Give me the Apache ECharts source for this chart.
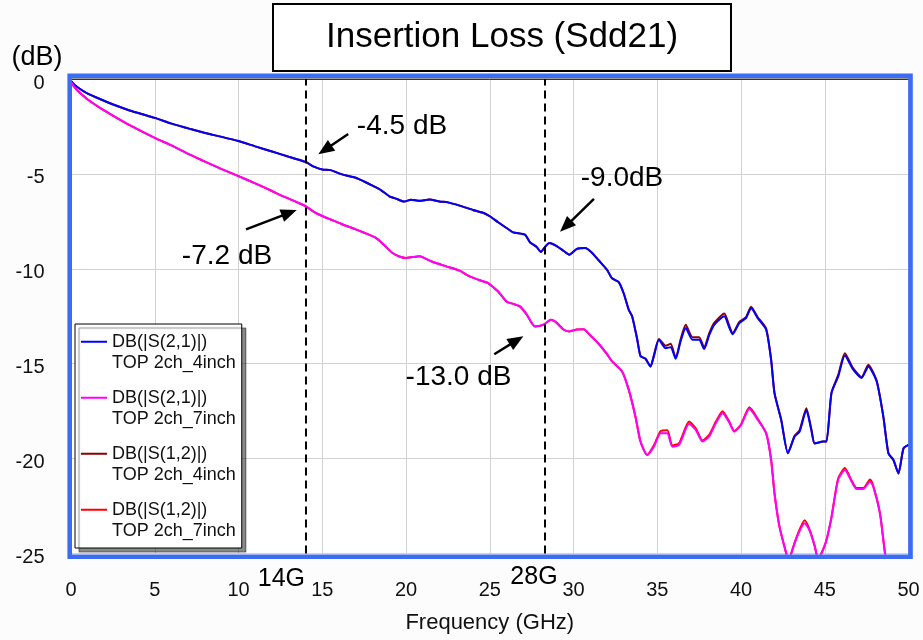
<!DOCTYPE html>
<html>
<head>
<meta charset="utf-8">
<title>Insertion Loss (Sdd21)</title>
<script src="https://cdn.jsdelivr.net/npm/echarts@6/dist/echarts.min.js"></script>
<style>
  html, body { margin: 0; padding: 0; background: #fcfcfc; }
  #chart { width: 923px; height: 640px; }
</style>
</head>
<body>
<div id="chart"></div>
<script>
// frequency axis ticks (GHz) and dB axis ticks
var xTicks = [0, 5, 10, 15, 20, 25, 30, 35, 40, 45, 50];
var yTicks = [0, -5, -10, -15, -20, -25];

// markers for the two dashed frequency lines
var markFreq = [14, 28.3];

// [GHz, dB]
var s21_4in = [
  [0, -0.1], [0.2, -0.3], [0.5, -0.5], [1.0, -0.77], [1.8, -1.08], [2.6, -1.37], [3.5, -1.66],
  [5.0, -2.05], [6.0, -2.35], [7.0, -2.6], [8.0, -2.85], [9.0, -3.05], [10.0, -3.27], [11.0, -3.55],
  [12.0, -3.82], [13.0, -4.1], [14.0, -4.37], [14.5, -4.62], [15.0, -4.77], [15.5, -4.8], [16.0, -4.97],
  [16.5, -5.1], [17.0, -5.2], [17.5, -5.4], [18.0, -5.62], [18.5, -5.85], [19.0, -6.18], [19.4, -6.3],
  [19.9, -6.46], [20.3, -6.36], [20.8, -6.42], [21.4, -6.35], [22.0, -6.45], [22.5, -6.5], [23.2, -6.67],
  [24.0, -6.9], [24.6, -7.05], [25.0, -7.23], [25.5, -7.55], [26.0, -7.85], [26.4, -8.08], [27.1, -8.2],
  [27.4, -8.6], [27.8, -8.85], [28.05, -9.11], [28.3, -8.85], [28.55, -8.64], [29.0, -8.8], [29.4, -9.05],
  [29.75, -9.26], [30.2, -8.95], [30.7, -8.9], [31.1, -9.15], [31.5, -9.55], [32.0, -10.05], [32.3, -10.5],
  [32.7, -10.7], [33.0, -11.3], [33.3, -12.16], [33.5, -12.5], [33.8, -13.7], [34.0, -14.6], [34.3, -14.74],
  [34.6, -15.15], [34.8, -14.6], [35.1, -13.74], [35.5, -14.18], [35.8, -14.13], [36.1, -14.74], [36.4, -13.8],
  [36.7, -13.12], [37.1, -13.74], [37.5, -13.74], [37.8, -14.23], [38.1, -13.5], [38.4, -12.95], [39.0, -12.5],
  [39.3, -13.1], [39.5, -13.45], [39.9, -12.86], [40.3, -12.6], [40.6, -12.07], [41.0, -12.6], [41.5, -13.2],
  [41.8, -14.8], [42.0, -16.55], [42.4, -17.96], [42.8, -19.72], [43.2, -18.84], [43.5, -18.58], [43.9, -17.44],
  [44.2, -18.5], [44.4, -19.2], [44.9, -19.1], [45.1, -19.1], [45.4, -16.55], [45.8, -15.68], [46.2, -14.57],
  [46.7, -15.32], [47.2, -15.76], [47.6, -15.15], [48.1, -15.94], [48.5, -17.8], [48.8, -19.72], [49.1, -20.07],
  [49.4, -20.78], [49.7, -19.46], [50.0, -19.28]
];

var s21_7in = [
  [0, -0.15], [0.2, -0.42], [0.4, -0.62], [1.0, -1.08], [1.8, -1.56], [2.6, -1.98], [3.5, -2.43],
  [5.0, -3.1], [6.0, -3.5], [7.0, -3.95], [8.0, -4.35], [9.0, -4.75], [10.0, -5.12], [11.0, -5.5],
  [12.0, -5.9], [12.5, -6.12], [13.0, -6.3], [13.5, -6.5], [14.0, -6.7], [14.5, -7.0], [15.0, -7.22],
  [15.5, -7.4], [16.0, -7.58], [16.5, -7.76], [17.0, -7.92], [17.5, -8.1], [18.2, -8.37], [18.7, -8.75],
  [19.2, -9.17], [19.6, -9.35], [20.0, -9.43], [20.4, -9.38], [20.8, -9.34], [21.5, -9.6], [22.4, -9.87],
  [23.2, -10.1], [23.8, -10.4], [24.4, -10.6], [24.9, -10.75], [25.5, -11.2], [26.0, -11.72], [26.4, -11.85],
  [26.8, -11.98], [27.2, -12.4], [27.7, -13.04], [28.2, -12.95], [28.65, -12.69], [29.0, -12.85], [29.4, -13.2],
  [29.75, -13.3], [30.2, -13.2], [30.6, -13.18], [31.0, -13.5], [31.5, -13.95], [32.0, -14.5], [32.3, -14.88],
  [32.9, -15.41], [33.3, -16.38], [33.7, -17.79], [34.0, -19.1], [34.4, -19.81], [34.8, -19.37], [35.2, -18.66],
  [35.6, -18.66], [35.9, -19.37], [36.3, -19.28], [36.9, -18.17], [37.3, -18.49], [37.7, -19.1], [38.1, -18.84],
  [38.5, -18.13], [38.9, -17.61], [39.3, -18.1], [39.6, -18.58], [40.0, -18.23], [40.5, -17.38], [41.0, -17.96],
  [41.5, -18.66], [41.8, -20.07], [42.0, -21.83], [42.3, -23.6], [42.7, -25.0], [42.85, -25.6], [43.0, -25.0],
  [43.4, -24.0], [43.8, -23.4], [44.1, -23.8], [44.4, -24.6], [44.6, -25.3], [44.8, -25.0], [45.1, -24.3],
  [45.4, -23.1], [45.8, -21.1], [46.2, -20.6], [46.6, -21.2], [46.9, -21.6], [47.3, -21.6], [47.7, -21.2],
  [47.9, -21.48], [48.3, -22.9], [48.6, -25.0], [49.0, -27.0], [50.0, -29.0]
];

var s12_4in = [
  [0, -0.1], [0.2, -0.3], [0.5, -0.5], [1.0, -0.77], [1.8, -1.08], [2.6, -1.37], [3.5, -1.66],
  [5.0, -2.05], [6.0, -2.35], [7.0, -2.6], [8.0, -2.85], [9.0, -3.05], [10.0, -3.27], [11.0, -3.55],
  [12.0, -3.82], [13.0, -4.1], [14.0, -4.37], [14.5, -4.62], [15.0, -4.77], [15.5, -4.8], [16.0, -4.97],
  [16.5, -5.1], [17.0, -5.2], [17.5, -5.4], [18.0, -5.62], [18.5, -5.85], [19.0, -6.18], [19.4, -6.3],
  [19.9, -6.46], [20.3, -6.36], [20.8, -6.42], [21.4, -6.35], [22.0, -6.45], [22.5, -6.5], [23.2, -6.67],
  [24.0, -6.9], [24.6, -7.05], [25.0, -7.23], [25.5, -7.55], [26.0, -7.85], [26.4, -8.08], [27.1, -8.2],
  [27.4, -8.6], [27.8, -8.85], [28.05, -9.11], [28.3, -8.85], [28.55, -8.64], [29.0, -8.8], [29.4, -9.05],
  [29.75, -9.26], [30.2, -8.95], [30.7, -8.9], [31.1, -9.15], [31.5, -9.55], [32.0, -10.05], [32.3, -10.5],
  [32.7, -10.7], [33.0, -11.3], [33.3, -12.16], [33.5, -12.5], [33.8, -13.7], [34.0, -14.6], [34.3, -14.74],
  [34.6, -15.15], [34.8, -14.55], [35.1, -13.7], [35.5, -14.05], [35.8, -13.95], [36.1, -14.7], [36.4, -13.7],
  [36.7, -12.95], [37.1, -13.6], [37.5, -13.6], [37.8, -14.15], [38.1, -13.4], [38.4, -12.85], [39.0, -12.35],
  [39.3, -13.0], [39.5, -13.4], [39.9, -12.8], [40.3, -12.55], [40.6, -12.0], [41.0, -12.55], [41.5, -13.15],
  [41.8, -14.8], [42.0, -16.55], [42.4, -17.96], [42.8, -19.72], [43.2, -18.8], [43.5, -18.5], [43.9, -17.35],
  [44.2, -18.45], [44.4, -19.2], [44.9, -19.1], [45.1, -19.1], [45.4, -16.55], [45.8, -15.6], [46.2, -14.45],
  [46.7, -15.25], [47.2, -15.7], [47.6, -15.05], [48.1, -15.9], [48.5, -17.8], [48.8, -19.72], [49.1, -20.07],
  [49.4, -20.78], [49.7, -19.46], [50.0, -19.28]
];

var s12_7in = [
  [0, -0.15], [0.2, -0.42], [0.4, -0.62], [1.0, -1.08], [1.8, -1.56], [2.6, -1.98], [3.5, -2.43],
  [5.0, -3.1], [6.0, -3.5], [7.0, -3.95], [8.0, -4.35], [9.0, -4.75], [10.0, -5.12], [11.0, -5.5],
  [12.0, -5.9], [12.5, -6.12], [13.0, -6.3], [13.5, -6.5], [14.0, -6.7], [14.5, -7.0], [15.0, -7.22],
  [15.5, -7.4], [16.0, -7.58], [16.5, -7.76], [17.0, -7.92], [17.5, -8.1], [18.2, -8.37], [18.7, -8.75],
  [19.2, -9.17], [19.6, -9.35], [20.0, -9.43], [20.4, -9.38], [20.8, -9.34], [21.5, -9.6], [22.4, -9.87],
  [23.2, -10.1], [23.8, -10.4], [24.4, -10.6], [24.9, -10.75], [25.5, -11.2], [26.0, -11.72], [26.4, -11.85],
  [26.8, -11.98], [27.2, -12.4], [27.7, -13.04], [28.2, -12.95], [28.65, -12.69], [29.0, -12.85], [29.4, -13.2],
  [29.75, -13.3], [30.2, -13.2], [30.6, -13.18], [31.0, -13.5], [31.5, -13.95], [32.0, -14.5], [32.3, -14.88],
  [32.9, -15.41], [33.3, -16.38], [33.7, -17.79], [34.0, -19.1], [34.4, -19.81], [34.8, -19.3], [35.2, -18.55],
  [35.6, -18.5], [35.9, -19.3], [36.3, -19.2], [36.9, -18.05], [37.3, -18.4], [37.7, -19.05], [38.1, -18.75],
  [38.5, -18.05], [38.9, -17.5], [39.3, -18.05], [39.6, -18.55], [40.0, -18.2], [40.5, -17.3], [41.0, -17.9],
  [41.5, -18.66], [41.8, -20.07], [42.0, -21.83], [42.3, -23.6], [42.7, -25.0], [42.85, -25.6], [43.0, -25.0],
  [43.4, -23.95], [43.8, -23.25], [44.1, -23.75], [44.4, -24.6], [44.6, -25.3], [44.8, -25.0], [45.1, -24.3],
  [45.4, -23.1], [45.8, -21.05], [46.2, -20.5], [46.6, -21.15], [46.9, -21.55], [47.3, -21.55], [47.7, -21.1],
  [47.9, -21.45], [48.3, -22.9], [48.6, -25.0], [49.0, -27.0], [50.0, -29.0]
];

var seriesNames = [
  'DB(|S(2,1)|)\nTOP 2ch_4inch',
  'DB(|S(2,1)|)\nTOP 2ch_7inch',
  'DB(|S(1,2)|)\nTOP 2ch_4inch',
  'DB(|S(1,2)|)\nTOP 2ch_7inch'
];
var seriesColors = ['#0000ff', '#ff00ff', '#8b0000', '#ff0000'];

var FONT = 'Liberation Sans, Arial, Helvetica, sans-serif';

var chart = echarts.init(document.getElementById('chart'));

// arrows: [tail, head] in GHz / dB
var arrows = [
  [[16.55, -2.90], [15.16, -3.73]],
  [[31.22, -6.32], [29.54, -7.76]],
  [[10.45, -7.92], [13.03, -7.05]],
  [[25.27, -14.5], [26.6, -13.77]]
];

function lineSeries(i, data, z) {
  return {
    name: seriesNames[i],
    type: 'line',
    data: data,
    showSymbol: false,
    symbol: 'none',
    smooth: 0.2,
    clip: true,
    z: z,
    color: seriesColors[i],
    lineStyle: { color: seriesColors[i], width: 2 }
  };
}

var blue = lineSeries(0, s21_4in, 4);
blue.markLine = {
  silent: true,
  symbol: 'none',
  label: { show: false },
  lineStyle: { color: '#000', width: 2, type: [8, 5] },
  data: markFreq.map(function (f) { return { xAxis: f }; })
};

var magenta = lineSeries(1, s21_7in, 4);
magenta.markLine = {
  silent: true,
  symbol: ['none', 'triangle'],
  symbolSize: [13, 16],
  label: { show: false },
  lineStyle: { color: '#000', width: 2.5, type: 'solid' },
  itemStyle: { color: '#000' },
  data: arrows.map(function (a) {
    return [{ coord: a[0] }, { coord: a[1] }];
  })
};

function txt(t, x, y, size, align) {
  return {
    type: 'text', x: x, y: y, z: 20,
    style: {
      text: t, fontSize: size, fontFamily: FONT, fill: '#000',
      align: align || 'center', verticalAlign: 'middle'
    }
  };
}

var option = {
  animation: false,
  backgroundColor: '#fcfcfc',
  title: {
    text: 'Insertion Loss (Sdd21)',
    left: 273,
    top: 4,
    padding: [13, 53, 14, 53],
    borderColor: '#000',
    borderWidth: 2,
    backgroundColor: '#fff',
    textStyle: { fontSize: 35, fontWeight: 'normal', color: '#000', fontFamily: FONT, lineHeight: 40 }
  },
  legend: {
    orient: 'vertical',
    left: 75,
    top: 324,
    padding: [7, 6, 6, 6],
    itemGap: 13,
    itemWidth: 26,
    itemHeight: 43,
    icon: 'path://M0,0H0.01V0.01H0Z M0,9.75H26V11.75H0Z M0,42.99H0.01V43H0Z',
    itemStyle: { borderWidth: 0 },
    backgroundColor: '#fff',
    borderColor: '#000',
    borderWidth: 1,
    shadowColor: 'rgba(0,0,0,0.45)',
    shadowBlur: 1,
    shadowOffsetX: 4,
    shadowOffsetY: 4,
    selectedMode: false,
    textStyle: { fontSize: 18, lineHeight: 21.5, color: '#111', fontFamily: FONT },
    data: seriesNames
  },
  grid: {
    left: 71,
    top: 79,
    right: 14.5,
    bottom: 86.5,
    show: true,
    backgroundColor: '#fff',
    borderColor: '#333',
    borderWidth: 1,
    outerBoundsMode: 'none'
  },
  xAxis: {
    type: 'value',
    min: xTicks[0],
    max: xTicks[xTicks.length - 1],
    interval: 5,
    name: 'Frequency (GHz)',
    nameLocation: 'middle',
    nameGap: 58,
    nameTextStyle: { fontSize: 22, color: '#111', fontFamily: FONT },
    axisLine: { show: true, lineStyle: { color: '#333', width: 1 } },
    axisTick: { show: false },
    axisLabel: { fontSize: 20, color: '#111', fontFamily: FONT, margin: 26.5 },
    splitLine: { show: true, lineStyle: { color: '#d2d2d2', width: 1 } }
  },
  yAxis: {
    type: 'value',
    min: yTicks[yTicks.length - 1],
    max: yTicks[0],
    interval: 5,
    axisLine: { show: false },
    axisTick: { show: false },
    axisLabel: {
      fontSize: 20, color: '#111', fontFamily: FONT, margin: 26.5,
      verticalAlign: 'top', lineHeight: 8
    },
    splitLine: { show: true, lineStyle: { color: '#d2d2d2', width: 1 } }
  },
  graphic: [
    {
      type: 'rect', z: 10, silent: true,
      shape: { x: 69.7, y: 75.8, width: 840.8, height: 480.9 },
      style: { fill: 'none', stroke: '#3a6cf4', lineWidth: 4.6 }
    },
    txt('(dB)', 37, 57.5, 27),
    txt('14G', 305, 579, 25, 'right'),
    txt('28G', 534, 577, 25),
    txt('-4.5 dB', 402, 126.5, 28),
    txt('-9.0dB', 622, 178.5, 28),
    txt('-7.2 dB', 227, 256, 28),
    txt('-13.0 dB', 458.5, 377, 28)
  ],
  series: [
    blue,
    magenta,
    lineSeries(2, s12_4in, 3),
    lineSeries(3, s12_7in, 3)
  ]
};

chart.setOption(option);
</script>
</body>
</html>
